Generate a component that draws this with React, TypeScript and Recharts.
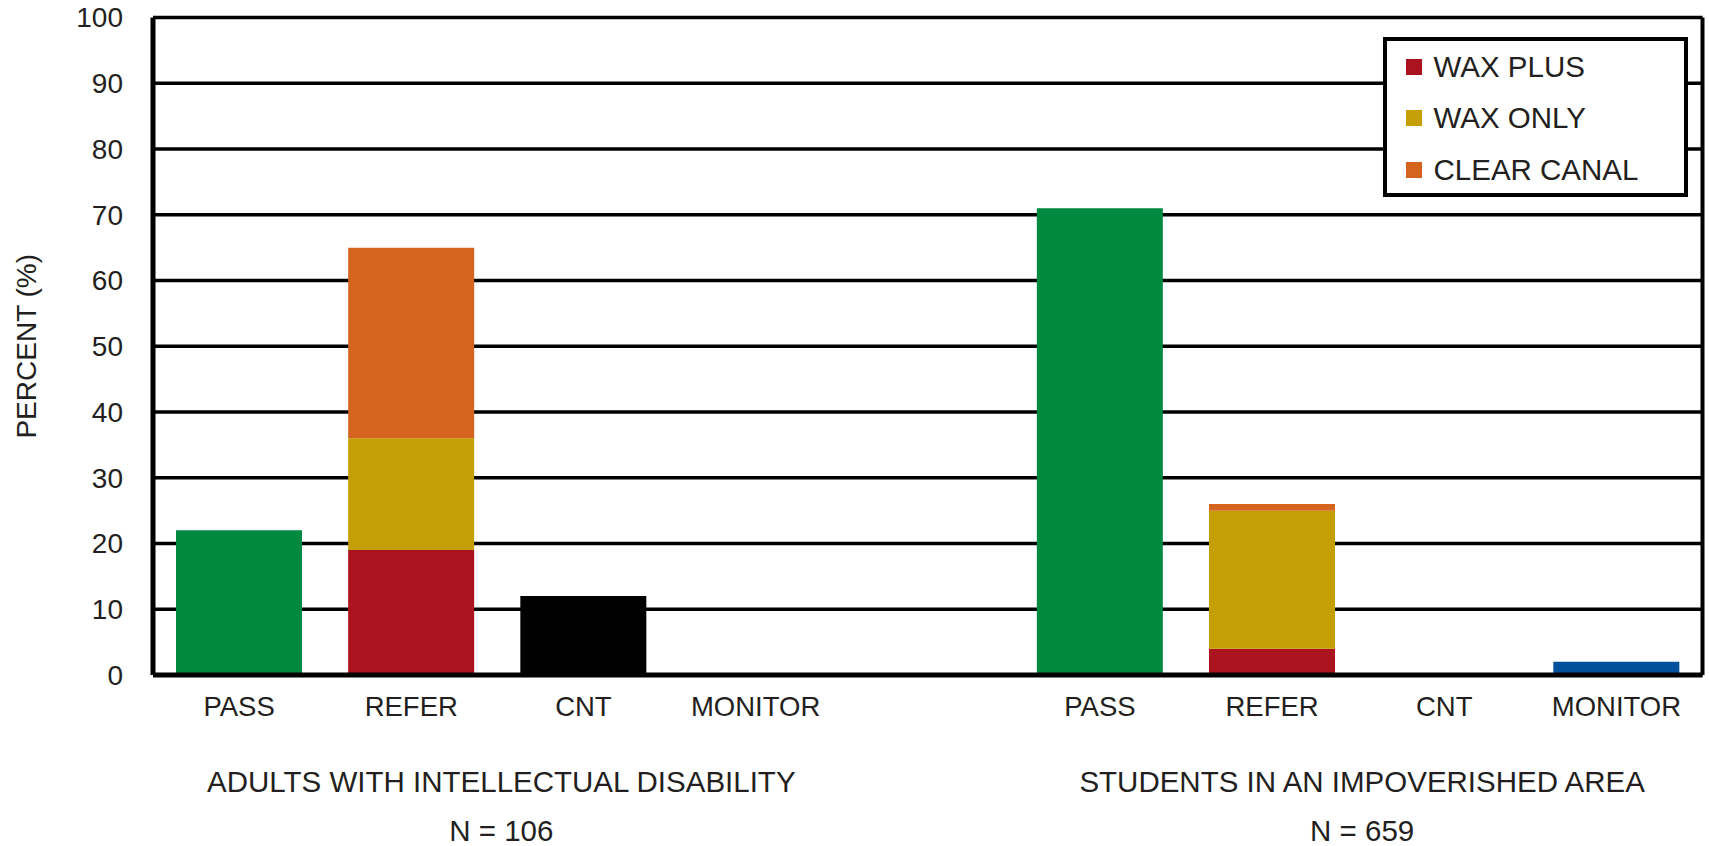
import React from "react";
import { BarChart, Bar, XAxis, YAxis, CartesianGrid, Legend } from "recharts";

const CATEGORIES = ["PASS", "REFER", "CNT", "MONITOR", "", "PASS", "REFER", "CNT", "MONITOR"];
const PASS = [22, null, null, null, null, 71, null, null, null];
const WAX_PLUS = [null, 19, null, null, null, null, 4, null, null];
const WAX_ONLY = [null, 17, null, null, null, null, 21, null, null];
const CLEAR_CANAL = [null, 29, null, null, null, null, 1, null, null];
const CNT = [null, null, 12, null, null, null, null, 0, null];
const MONITOR = [null, null, null, 0, null, null, null, null, 2];

const Y_TICKS = [0, 10, 20, 30, 40, 50, 60, 70, 80, 90, 100];
// group label sits between these two category indices (right edge of this index)
const GROUP_AT_INDEX = [1, 6];
const GROUP_NAMES = ["ADULTS WITH INTELLECTUAL DISABILITY", "STUDENTS IN AN IMPOVERISHED AREA"];
const GROUP_N = ["N = 106", "N = 659"];

const SERIES = [
  { key: "pass", name: "PASS", color: "#00893F", values: PASS, legend: false },
  { key: "waxPlus", name: "WAX PLUS", color: "#AB131E", values: WAX_PLUS, legend: true },
  { key: "waxOnly", name: "WAX ONLY", color: "#C49F05", values: WAX_ONLY, legend: true },
  { key: "clear", name: "CLEAR CANAL", color: "#D5651E", values: CLEAR_CANAL, legend: true },
  { key: "cnt", name: "CNT", color: "#000000", values: CNT, legend: false },
  { key: "monitor", name: "MONITOR", color: "#00509B", values: MONITOR, legend: false },
];

const data = CATEGORIES.map((c, i) => {
  const row: any = { id: i, cat: c };
  SERIES.forEach((s) => {
    row[s.key] = s.values[i];
  });
  return row;
});

const FONT = "'Liberation Sans', Arial, Helvetica, sans-serif";
const TEXT = "#231F20";

const CategoryTick = (props: any) => {
  const { x, y, payload } = props;
  const idx = Number(payload.value);
  const label = CATEGORIES[idx] ?? "";
  const g = GROUP_AT_INDEX.indexOf(idx);
  const half = typeof payload.offset === "number" ? payload.offset : 0;
  return (
    <g>
      <text x={x} y={y + 39} textAnchor="middle" fontSize={27.5} fill={TEXT} fontFamily={FONT}>
        {label}
      </text>
      {g >= 0 && (
        <g>
          <text x={x + half + 4} y={y + 115} textAnchor="middle" fontSize={29.5} fill={TEXT} fontFamily={FONT}>
            {GROUP_NAMES[g]}
          </text>
          <text x={x + half + 4} y={y + 164} textAnchor="middle" fontSize={29.5} fill={TEXT} fontFamily={FONT}>
            {GROUP_N[g]}
          </text>
        </g>
      )}
    </g>
  );
};

const PercentLabel = (props: any) => {
  const vb = props.viewBox || { x: 0, y: 0, width: 0, height: 0 };
  const cx = vb.x + 26;
  const cy = vb.y + vb.height / 2;
  return (
    <text
      x={cx}
      y={cy}
      transform={`rotate(-90 ${cx} ${cy})`}
      textAnchor="middle"
      dominantBaseline="central"
      fontSize={28}
      fill={TEXT}
      fontFamily={FONT}
    >
      PERCENT (%)
    </text>
  );
};

const LegendContent = (props: any) => {
  const payload = (props.payload || []) as any[];
  const items = SERIES.filter((s) => s.legend).map((s) => {
    const p = payload.find((e) => e.dataKey === s.key);
    return { name: p?.value ?? s.name, color: p?.color ?? s.color };
  });
  return (
    <div
      style={{
        boxSizing: "border-box",
        width: 305,
        height: 160,
        border: "4.5px solid #000",
        background: "#fff",
        paddingLeft: 18.5,
        paddingTop: 0,
        fontFamily: FONT,
      }}
    >
      {items.map((it) => (
        <div key={it.name} style={{ height: 51.5, display: "flex", alignItems: "center" }}>
          <span style={{ width: 16, height: 16, background: it.color, display: "inline-block", marginRight: 12 }} />
          <span style={{ fontSize: 29.5, color: TEXT, lineHeight: "30px" }}>{it.name}</span>
        </div>
      ))}
    </div>
  );
};

export default function App() {
  return (
    <div style={{ position: "absolute", left: 0, top: 0, width: 1709, height: 846, background: "#fff" }}>
      <BarChart
        width={1709}
        height={846}
        data={data}
        margin={{ top: 17.5, right: 0, left: 0, bottom: 0 }}
        barSize={126}
      >
        <CartesianGrid horizontal vertical={false} stroke="#000" strokeWidth={3.5} />
        <XAxis
          dataKey="id"
          type="category"
          height={171}
          axisLine={{ stroke: "#000", strokeWidth: 5 }}
          tickLine={false}
          tickSize={0}
          interval={0}
          tick={<CategoryTick />}
        />
        <YAxis
          width={153}
          domain={[0, 100]}
          ticks={Y_TICKS}
          interval={0}
          axisLine={{ stroke: "#000", strokeWidth: 5 }}
          tickLine={false}
          tickSize={0}
          tickMargin={30}
          tick={{ fontSize: 28, fill: TEXT, fontFamily: FONT }}
          label={<PercentLabel />}
        />
        <YAxis
          yAxisId="right"
          orientation="right"
          width={6.5}
          domain={[0, 100]}
          tick={false}
          tickLine={false}
          axisLine={{ stroke: "#000", strokeWidth: 4 }}
        />
        <Legend
          layout="horizontal"
          verticalAlign="middle"
          align="center"
          content={<LegendContent />}
          wrapperStyle={{ position: "absolute", left: 1383, top: 37, width: 305, height: 160 }}
        />
        {SERIES.map((s) => (
          <Bar
            key={s.key}
            dataKey={s.key}
            name={s.name}
            stackId="s"
            fill={s.color}
            isAnimationActive={false}
          />
        ))}
      </BarChart>
    </div>
  );
}
